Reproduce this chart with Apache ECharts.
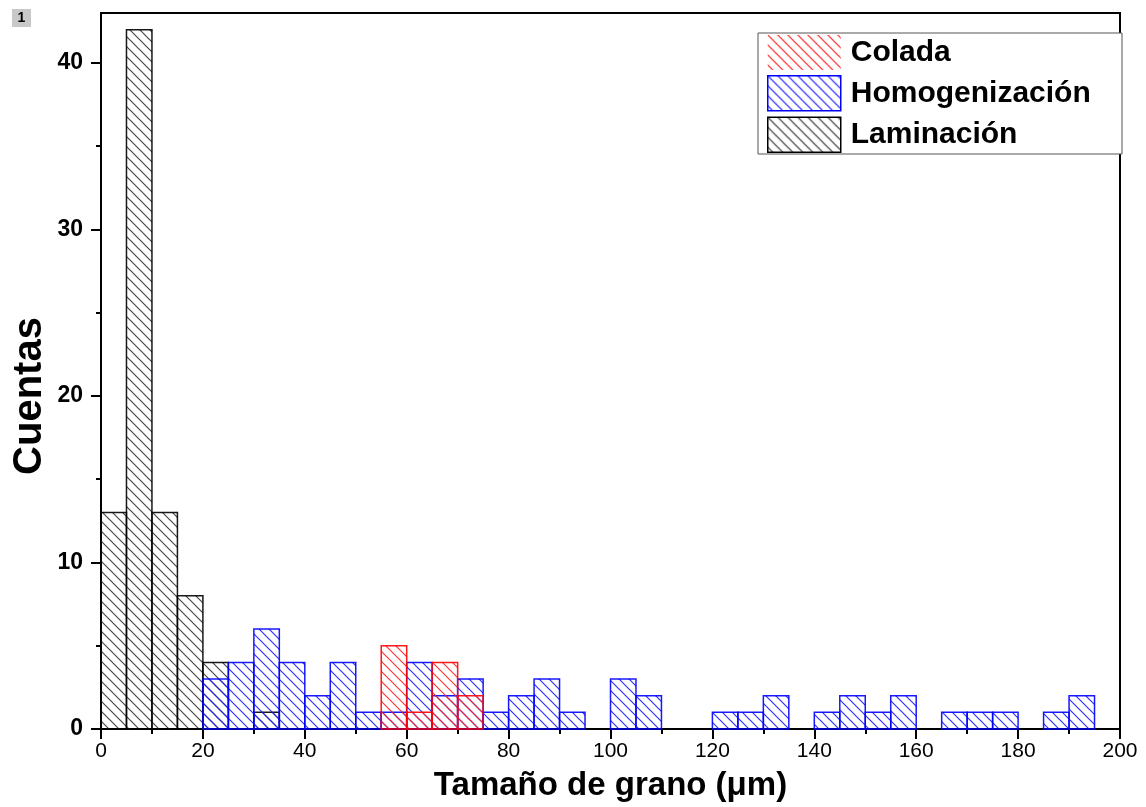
<!DOCTYPE html>
<html>
<head>
<meta charset="utf-8">
<script src="https://cdn.jsdelivr.net/npm/echarts@6/dist/echarts.min.js"></script>
<style>
html,body{margin:0;padding:0;background:#fff;}
#chart{width:1146px;height:807px;}
</style>
</head>
<body>
<div id="chart"></div>
<script>
// ---- data (histogram bins of 5 µm) ----
const binStart = [0,5,10,15,20,25,30,35,40,45,50,55,60,65,70,75,80,85,90,95,
                  100,105,110,115,120,125,130,135,140,145,150,155,160,165,170,175,180,185,190,195];
const binWidth = 5;
const seriesNames = ['Colada', 'Homogenización', 'Laminación'];
const colada =        [0,0,0,0,0,0,0,0,0,0,0,5,1,4,2,0,0,0,0,0,
                       0,0,0,0,0,0,0,0,0,0,0,0,0,0,0,0,0,0,0,0];
const homogenizacion = [0,0,0,0,3,4,6,4,2,4,1,1,4,2,3,1,2,3,1,0,
                        3,2,0,0,1,1,2,0,1,2,1,2,0,1,1,1,0,1,2,0];
const laminacion =    [13,42,13,8,4,0,1,0,0,0,0,0,0,0,0,0,0,0,0,0,
                       0,0,0,0,0,0,0,0,0,0,0,0,0,0,0,0,0,0,0,0];
const xTicks = [0,20,40,60,80,100,120,140,160,180,200];
const xMinorTicks = [10,30,50,70,90,110,130,150,170,190];
const yTicks = [0,10,20,30,40];
const yMinorTicks = [5,15,25,35];

// ---- hatch patterns ----
function hatch(color, lw) {
  const s = 10;
  const c = document.createElement('canvas');
  c.width = s; c.height = s;
  const g = c.getContext('2d');
  g.strokeStyle = color;
  g.lineWidth = lw;
  g.beginPath();
  g.moveTo(-1, -1); g.lineTo(s + 1, s + 1);
  g.moveTo(-1, s - 1); g.lineTo(1, s + 1);
  g.moveTo(s - 1, -1); g.lineTo(s + 1, 1);
  g.stroke();
  return {image: c, repeat: 'repeat'};
}
const colors = {'Colada': '#ff0000', 'Homogenización': '#0000ff', 'Laminación': '#000000'};
const hatchColors = {'Colada': '#ff2020', 'Homogenización': '#1a1aff', 'Laminación': '#333333'};
const patterns = {};
seriesNames.forEach(n => patterns[n] = hatch(hatchColors[n], 1.2));

function toBins(counts) {
  const out = [];
  counts.forEach((v, i) => { if (v > 0) out.push([binStart[i], binStart[i] + binWidth, v]); });
  return out;
}

function makeSeries(name, counts) {
  return {
    name: name,
    type: 'custom',
    data: toBins(counts),
    encode: {x: [0, 1], y: 2},
    itemStyle: {color: patterns[name], borderColor: colors[name]},
    renderItem: function (params, api) {
      const p0 = api.coord([api.value(0), api.value(2)]);
      const p1 = api.coord([api.value(1), 0]);
      return {
        type: 'rect',
        shape: {x: p0[0], y: p0[1], width: p1[0] - p0[0], height: p1[1] - p0[1]},
        style: {fill: patterns[name], stroke: colors[name], lineWidth: 1.5, opacity: 0.9}
      };
    }
  };
}

const FONT = '"Liberation Sans", Arial, sans-serif';
const chart = echarts.init(document.getElementById('chart'), null, {renderer: 'canvas'});
chart.setOption({
  animation: false,
  backgroundColor: '#fff',
  grid: {left: 101, right: 26, top: 13, bottom: 77, show: true, borderColor: '#000', borderWidth: 2, backgroundColor: 'transparent'},
  xAxis: [{
    type: 'value', min: 0, max: 200, interval: 20,
    axisLine: {show: true, onZero: false, lineStyle: {color: '#000', width: 2}},
    axisTick: {show: true, inside: false, length: 10, customValues: xTicks, lineStyle: {color: '#000', width: 2}},
    axisLabel: {customValues: xTicks, color: '#000', fontSize: 21, fontFamily: FONT, margin: 12},
    splitLine: {show: false},
    name: 'Tamaño de grano (μm)', nameLocation: 'middle', nameGap: 40,
    nameTextStyle: {color: '#000', fontSize: 33, fontWeight: 'bold', fontFamily: FONT}
  }, {
    type: 'value', min: 0, max: 200, position: 'bottom',
    axisLine: {show: false},
    axisTick: {show: true, inside: false, length: 5, customValues: xMinorTicks, lineStyle: {color: '#000', width: 2}},
    axisLabel: {show: false},
    splitLine: {show: false}
  }],
  yAxis: [{
    type: 'value', min: 0, max: 43, interval: 10,
    axisLine: {show: true, lineStyle: {color: '#000', width: 2}},
    axisTick: {show: true, inside: false, length: 10, customValues: yTicks, lineStyle: {color: '#000', width: 2}},
    axisLabel: {customValues: yTicks, color: '#000', fontSize: 23, fontWeight: 'bold', fontFamily: FONT, margin: 18},
    splitLine: {show: false}
  }, {
    type: 'value', min: 0, max: 43, position: 'left',
    axisLine: {show: false},
    axisTick: {show: true, inside: false, length: 5, customValues: yMinorTicks, lineStyle: {color: '#000', width: 2}},
    axisLabel: {show: false},
    splitLine: {show: false}
  }],
  legend: {
    orient: 'vertical', left: 767, top: 35, padding: 0,
    itemWidth: 73, itemHeight: 35, itemGap: 5, z: 10,
    selectedMode: false,
    textStyle: {color: '#000', fontSize: 30, fontWeight: 'bold', fontFamily: FONT, padding: [0, 0, 0, 5]},
    data: [
      {name: 'Colada', icon: 'rect', itemStyle: {color: patterns['Colada'], borderWidth: 0}},
      {name: 'Homogenización', icon: 'rect', itemStyle: {color: patterns['Homogenización'], borderColor: '#0000ff', borderWidth: 1.5}},
      {name: 'Laminación', icon: 'rect', itemStyle: {color: patterns['Laminación'], borderColor: '#000', borderWidth: 1.5}}
    ]
  },
  graphic: [
    {type: 'rect', z: 5, shape: {x: 758, y: 33, width: 364, height: 121}, style: {fill: '#fff', stroke: '#555', lineWidth: 1}},
    {type: 'text', z: 5, x: 30, y: 396, rotation: Math.PI / 2,
     style: {text: 'Cuentas', fill: '#000', font: 'bold 40px ' + FONT, align: 'center', verticalAlign: 'middle'}},
    {type: 'rect', z: 5, shape: {x: 12, y: 9, width: 19, height: 18}, style: {fill: '#c8c8c8'}},
    {type: 'text', z: 6, x: 21.5, y: 18.5, style: {text: '1', fill: '#000', font: 'bold 14px ' + FONT, align: 'center', verticalAlign: 'middle'}}
  ],
  series: [
    makeSeries('Laminación', laminacion),
    makeSeries('Homogenización', homogenizacion),
    makeSeries('Colada', colada)
  ]
});
</script>
</body>
</html>
